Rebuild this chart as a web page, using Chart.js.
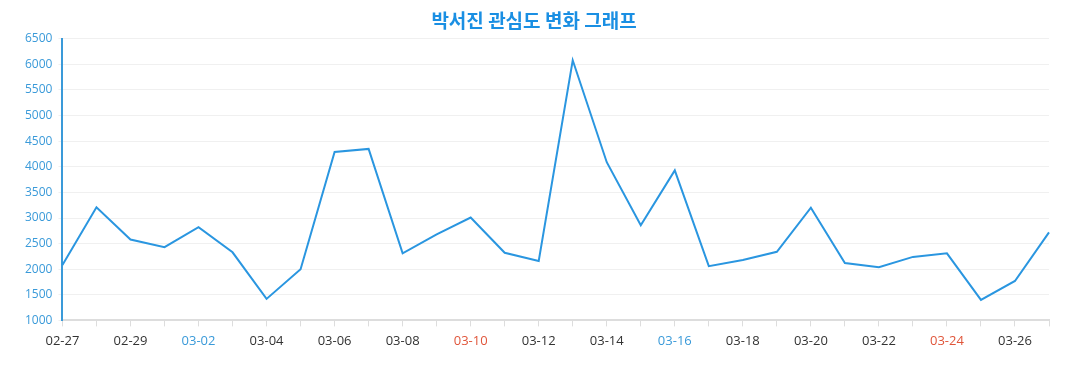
<!DOCTYPE html>
<html>
<head>
<meta charset="utf-8">
<script src="https://cdn.jsdelivr.net/npm/chart.js@4.4.1/dist/chart.umd.min.js"></script>
<style>
  html, body { margin: 0; padding: 0; background: #fff; }
  #wrap { width: 1077px; height: 390px; }
</style>
</head>
<body>
<div id="wrap"><canvas id="chartPlaceholder" width="1077" height="390"></canvas></div>
<script>
const DATES = [
  "02-27", "02-28", "02-29", "03-01", "03-02", "03-03", "03-04", "03-05", "03-06", "03-07",
  "03-08", "03-09", "03-10", "03-11", "03-12", "03-13", "03-14", "03-15", "03-16", "03-17",
  "03-18", "03-19", "03-20", "03-21", "03-22", "03-23", "03-24", "03-25", "03-26", "03-27",
];
const INTEREST = [
  2080, 3210, 2580, 2430, 2820, 2330, 1420, 2000, 4290, 4350,
  2310, 2680, 3010, 2320, 2160, 6080, 4090, 2860, 3930, 2060,
  2180, 2340, 3200, 2120, 2040, 2240, 2310, 1400, 1770, 2720,
];
const SATURDAYS = ["03-02", "03-16"];
const SUNDAYS = ["03-10", "03-24"];

const TITLE = "박서진 관심도 변화 그래프";

function labelColor(ctx) {
  const label = DATES[ctx.index];
  if (SATURDAYS.includes(label)) return "#3a9ad9";
  if (SUNDAYS.includes(label)) return "#e0553a";
  return "#333333";
}

const ctx = document.getElementById("chartPlaceholder").getContext("2d");
new Chart(ctx, {
  type: "line",
  data: {
    labels: DATES,
    datasets: [
      {
        label: "관심도",
        data: INTEREST,
        borderColor: "#2a96e0",
        borderWidth: 2,
        pointRadius: 0,
        tension: 0,
        fill: false,
      },
    ],
  },
  options: {
    responsive: false,
    animation: false,
    layout: { padding: { left: 19, right: 28, top: 0, bottom: 34 } },
    plugins: {
      legend: { display: false },
      tooltip: { enabled: false },
      title: {
        display: true,
        text: TITLE,
        color: "#1a8fe3",
        font: { family: "'Noto Sans CJK KR'", size: 19, weight: "bold" },
        padding: { top: 9, bottom: 7 },
      },
    },
    scales: {
      x: {
        offset: false,
        border: { color: "#dddddd", width: 2 },
        grid: { drawOnChartArea: false, drawTicks: true, tickLength: 6, color: "#dddddd" },
        ticks: {
          autoSkip: false,
          maxRotation: 0,
          padding: 7,
          color: labelColor,
          font: { family: "'Open Sans'", size: 13 },
          callback: function (value, index) {
            return index % 2 === 0 ? DATES[index] : "";
          },
        },
      },
      y: {
        min: 1000,
        max: 6500,
        border: { color: "#3a9ad9", width: 2 },
        grid: { color: "#f0f0f0", tickLength: 4 },
        ticks: {
          stepSize: 500,
          padding: 6,
          color: "#3a9ad9",
          font: { family: "'Open Sans'", size: 12 },
          callback: function (value) {
            return String(value);
          },
        },
      },
    },
  },
});
</script>
</body>
</html>
